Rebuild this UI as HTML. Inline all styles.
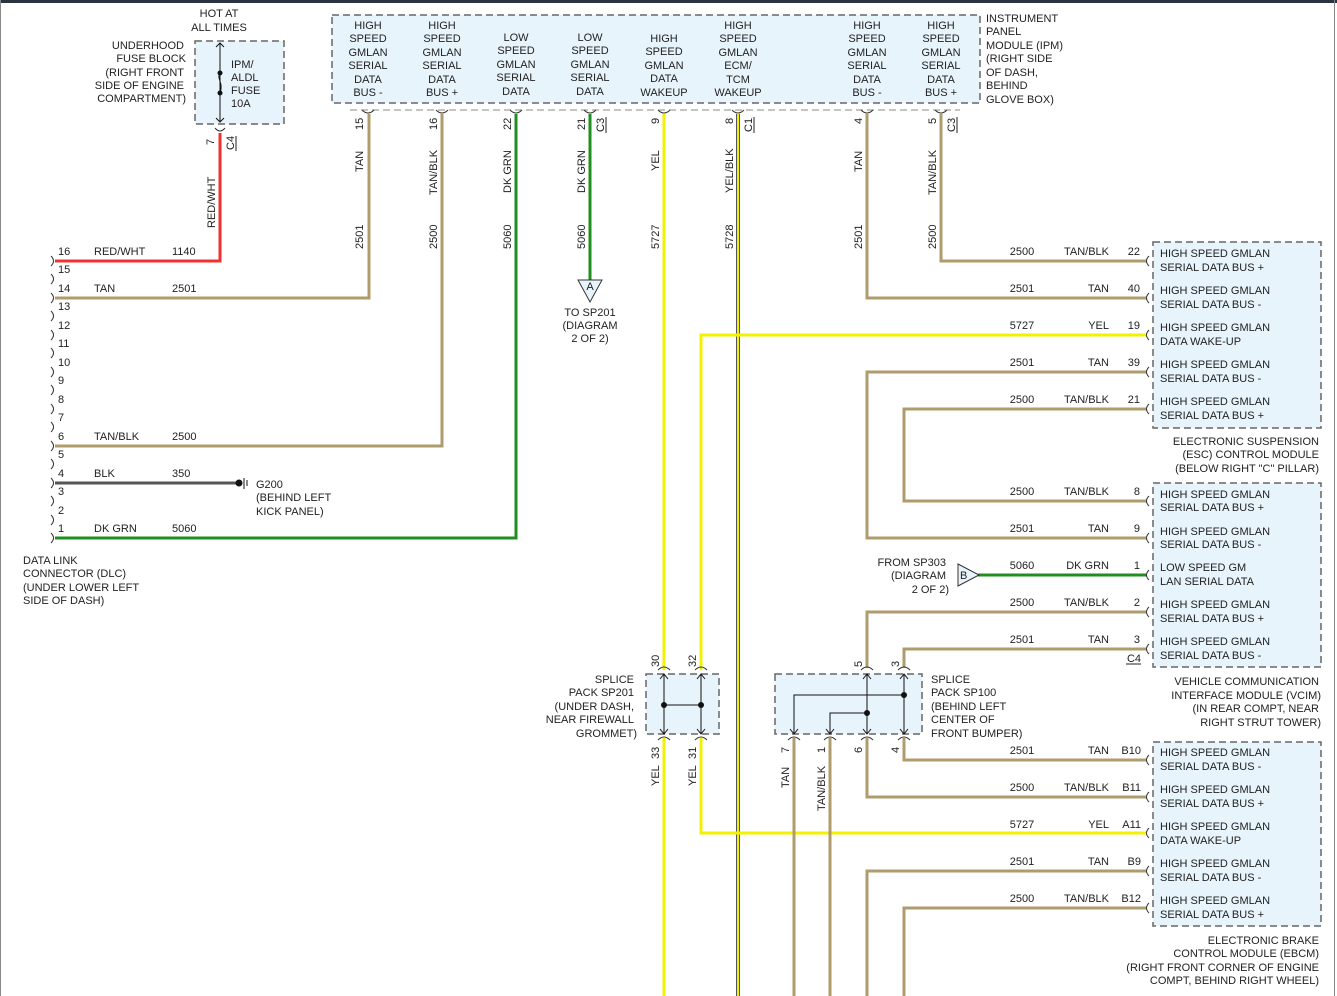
<!DOCTYPE html>
<html><head><meta charset="utf-8"><style>
html,body{margin:0;padding:0;background:#fff}
svg{display:block}
text{font-family:"Liberation Sans",Arial,sans-serif;font-size:11px;fill:#222}
.m{text-anchor:middle}.e{text-anchor:end}
.box{fill:#e8f4fc;stroke:#666;stroke-width:1.5;stroke-dasharray:7,4}
.tan{stroke:#b09b6c;stroke-width:3;fill:none}
.yel{stroke:#f2f200;stroke-width:3;fill:none}
.grn{stroke:#1f8f1f;stroke-width:3;fill:none}
.red{stroke:#f23030;stroke-width:3;fill:none}
.blk{stroke:#555;stroke-width:3;fill:none}
.pin{stroke:#333;stroke-width:1;fill:none}
.ln{stroke:#111;stroke-width:1;fill:none}
</style></head><body>
<svg width="1337" height="996" viewBox="0 0 1337 996" xmlns="http://www.w3.org/2000/svg">
<rect x="0" y="0" width="1337" height="3" fill="#2a3340"/>
<line x1="0.5" y1="0" x2="0.5" y2="996" stroke="#888"/>
<line x1="1334.5" y1="0" x2="1334.5" y2="996" stroke="#888"/>

<!-- fuse block -->
<text class="m" x="219" y="17">HOT AT</text><text class="m" x="219" y="31">ALL TIMES</text>
<rect class="box" x="195" y="41" width="89" height="83"/>
<text class="e" x="184" y="49">UNDERHOOD</text><text class="e" x="186" y="62">FUSE BLOCK</text>
<text class="e" x="184" y="76">(RIGHT FRONT</text><text class="e" x="184" y="89">SIDE OF ENGINE</text>
<text class="e" x="186" y="102">COMPARTMENT)</text>
<text x="231" y="68">IPM/</text><text x="231" y="81">ALDL</text><text x="231" y="94">FUSE</text><text x="231" y="107">10A</text>
<path class="ln" d="M220 43V122M216 47l4-4 4 4M216 118l4 4 4-4M220 73c-4 5 4 10 0 20"/>
<circle cx="220" cy="73" r="2.5" fill="#111"/><circle cx="220" cy="93" r="2.5" fill="#111"/>
<path class="pin" d="M215 128q5 6 10 0"/>
<text transform="translate(214,145) rotate(-90)">7</text>
<text transform="translate(234,150) rotate(-90)">C4</text>
<line x1="236" y1="136" x2="236" y2="151" stroke="#222"/>
<path class="red" d="M220 133V261H55"/>
<text transform="translate(215,228) rotate(-90)">RED/WHT</text>

<!-- IPM -->
<rect class="box" x="332" y="15" width="648" height="88"/>
<g class="m">
<text x="368" y="29">HIGH</text><text x="368" y="42">SPEED</text><text x="368" y="56">GMLAN</text><text x="368" y="69">SERIAL</text><text x="368" y="83">DATA</text><text x="368" y="96">BUS -</text>
<text x="442" y="29">HIGH</text><text x="442" y="42">SPEED</text><text x="442" y="56">GMLAN</text><text x="442" y="69">SERIAL</text><text x="442" y="83">DATA</text><text x="442" y="96">BUS +</text>
<text x="516" y="41">LOW</text><text x="516" y="54">SPEED</text><text x="516" y="68">GMLAN</text><text x="516" y="81">SERIAL</text><text x="516" y="95">DATA</text>
<text x="590" y="41">LOW</text><text x="590" y="54">SPEED</text><text x="590" y="68">GMLAN</text><text x="590" y="81">SERIAL</text><text x="590" y="95">DATA</text>
<text x="664" y="42">HIGH</text><text x="664" y="55">SPEED</text><text x="664" y="69">GMLAN</text><text x="664" y="82">DATA</text><text x="664" y="96">WAKEUP</text>
<text x="738" y="29">HIGH</text><text x="738" y="42">SPEED</text><text x="738" y="56">GMLAN</text><text x="738" y="69">ECM/</text><text x="738" y="83">TCM</text><text x="738" y="96">WAKEUP</text>
<text x="867" y="29">HIGH</text><text x="867" y="42">SPEED</text><text x="867" y="56">GMLAN</text><text x="867" y="69">SERIAL</text><text x="867" y="83">DATA</text><text x="867" y="96">BUS -</text>
<text x="941" y="29">HIGH</text><text x="941" y="42">SPEED</text><text x="941" y="56">GMLAN</text><text x="941" y="69">SERIAL</text><text x="941" y="83">DATA</text><text x="941" y="96">BUS +</text>
</g>
<text x="986" y="22">INSTRUMENT</text><text x="986" y="35">PANEL</text><text x="986" y="49">MODULE (IPM)</text>
<text x="986" y="62">(RIGHT SIDE</text><text x="986" y="76">OF DASH,</text><text x="986" y="89">BEHIND</text><text x="986" y="103">GLOVE BOX)</text>
<line x1="350" y1="110" x2="960" y2="110" stroke="#888" stroke-dasharray="7,4"/>

<g class="pin">
<path d="M362 110q6 6 12 0M436 110q6 6 12 0M510 110q6 6 12 0M584 110q6 6 12 0M658 110q6 6 12 0M732 110q6 6 12 0M861 110q6 6 12 0M935 110q6 6 12 0"/>
</g>
<!-- vertical IPM wires -->
<path class="tan" d="M369 114V298H55"/>
<path class="tan" d="M442 114V446H55"/>
<path class="grn" d="M516 114V538H55"/>
<path class="grn" d="M590 114V285"/>
<path class="yel" d="M664 114V670"/>
<line x1="738" y1="114" x2="738" y2="996" stroke="#555" stroke-width="4"/>
<line x1="738" y1="114" x2="738" y2="996" stroke="#f2f200" stroke-width="2"/>
<path class="tan" d="M867 114V298H1147"/>
<path class="tan" d="M941 114V261H1147"/>

<g>
<text transform="translate(363,130) rotate(-90)">15</text>
<text transform="translate(437,130) rotate(-90)">16</text>
<text transform="translate(511,130) rotate(-90)">22</text>
<text transform="translate(585,130) rotate(-90)">21</text>
<text transform="translate(659,124) rotate(-90)">9</text>
<text transform="translate(733,124) rotate(-90)">8</text>
<text transform="translate(862,124) rotate(-90)">4</text>
<text transform="translate(936,124) rotate(-90)">5</text>
<text transform="translate(604,132) rotate(-90)">C3</text><line x1="606" y1="117" x2="606" y2="133" stroke="#222"/>
<text transform="translate(752,132) rotate(-90)">C1</text><line x1="754" y1="117" x2="754" y2="133" stroke="#222"/>
<text transform="translate(955,132) rotate(-90)">C3</text><line x1="957" y1="117" x2="957" y2="133" stroke="#222"/>
<text transform="translate(363,172) rotate(-90)">TAN</text>
<text transform="translate(437,195) rotate(-90)">TAN/BLK</text>
<text transform="translate(511,193) rotate(-90)">DK GRN</text>
<text transform="translate(585,193) rotate(-90)">DK GRN</text>
<text transform="translate(659,171) rotate(-90)">YEL</text>
<text transform="translate(733,193) rotate(-90)">YEL/BLK</text>
<text transform="translate(862,172) rotate(-90)">TAN</text>
<text transform="translate(936,195) rotate(-90)">TAN/BLK</text>
<text transform="translate(363,249) rotate(-90)">2501</text>
<text transform="translate(437,249) rotate(-90)">2500</text>
<text transform="translate(511,249) rotate(-90)">5060</text>
<text transform="translate(585,249) rotate(-90)">5060</text>
<text transform="translate(659,249) rotate(-90)">5727</text>
<text transform="translate(733,249) rotate(-90)">5728</text>
<text transform="translate(862,249) rotate(-90)">2501</text>
<text transform="translate(936,249) rotate(-90)">2500</text>
</g>
<!-- A arrow -->
<path d="M578 280H602L590 302Z" fill="#e8f4fc" stroke="#333"/>
<text class="m" x="590" y="290">A</text>
<text class="m" x="590" y="316">TO SP201</text><text class="m" x="590" y="329">(DIAGRAM</text><text class="m" x="590" y="342">2 OF 2)</text>

<!-- DLC -->
<g class="pin">
<path d="M51 256q5 5 0 10M51 274q5 5 0 10M51 293q5 5 0 10M51 311q5 5 0 10M51 330q5 5 0 10M51 348q5 5 0 10M51 367q5 5 0 10M51 385q5 5 0 10M51 404q5 5 0 10M51 422q5 5 0 10M51 441q5 5 0 10M51 459q5 5 0 10M51 478q5 5 0 10M51 496q5 5 0 10M51 515q5 5 0 10M51 533q5 5 0 10"/>
</g>
<g>
<text x="58" y="255">16</text><text x="58" y="273">15</text><text x="58" y="292">14</text><text x="58" y="310">13</text>
<text x="58" y="329">12</text><text x="58" y="347">11</text><text x="58" y="366">10</text><text x="58" y="384">9</text>
<text x="58" y="403">8</text><text x="58" y="421">7</text><text x="58" y="440">6</text><text x="58" y="458">5</text>
<text x="58" y="477">4</text><text x="58" y="495">3</text><text x="58" y="514">2</text><text x="58" y="532">1</text>
<text x="94" y="255">RED/WHT</text><text x="172" y="255">1140</text>
<text x="94" y="292">TAN</text><text x="172" y="292">2501</text>
<text x="94" y="440">TAN/BLK</text><text x="172" y="440">2500</text>
<text x="94" y="477">BLK</text><text x="172" y="477">350</text>
<text x="94" y="532">DK GRN</text><text x="172" y="532">5060</text>
</g>
<path class="blk" d="M55 483H238"/>
<circle cx="239" cy="483" r="3.5" fill="#111"/>
<line x1="244" y1="478" x2="244" y2="489" stroke="#111"/><line x1="247" y1="480" x2="247" y2="486" stroke="#111"/>
<text x="256" y="488">G200</text><text x="256" y="501">(BEHIND LEFT</text><text x="256" y="515">KICK PANEL)</text>
<text x="23" y="564">DATA LINK</text><text x="23" y="577">CONNECTOR (DLC)</text><text x="23" y="591">(UNDER LOWER LEFT</text><text x="23" y="604">SIDE OF DASH)</text>

<!-- right side wires -->
<path class="yel" d="M701 670V335H1147"/>
<path class="tan" d="M1147 372H867V538H1147"/>
<path class="tan" d="M1147 409H904V501H1147"/>
<path class="grn" d="M978 575H1147"/>
<path class="tan" d="M867 668V612H1147"/>
<path class="tan" d="M904 668V649H1147"/>
<path class="yel" d="M664 738V996"/>
<path class="yel" d="M701 738V833H1147"/>
<path class="tan" d="M904 738V760H1147"/>
<path class="tan" d="M867 738V797H1147"/>
<path class="tan" d="M794 738V996"/>
<path class="tan" d="M830 738V996"/>
<path class="tan" d="M1147 871H867V996"/>
<path class="tan" d="M1147 908H904V996"/>

<!-- B arrow -->
<path d="M958 564V586L979 575Z" fill="#e8f4fc" stroke="#333"/>
<text x="960" y="579">B</text>
<text class="e" x="946" y="566">FROM SP303</text><text class="e" x="946" y="579">(DIAGRAM</text><text class="e" x="949" y="593">2 OF 2)</text>

<!-- SP201 -->
<rect class="box" x="646" y="674" width="73" height="60"/>
<path class="ln" d="M664 674V734M701 674V734M664 705H701M660 679l4-5 4 5M697 679l4-5 4 5M660 729l4 5 4-5M697 729l4 5 4-5"/>
<circle cx="664" cy="705" r="3" fill="#111"/><circle cx="701" cy="705" r="3" fill="#111"/>
<path class="pin" d="M658 670q6-6 12 0M695 670q6-6 12 0M658 740q6-6 12 0M695 740q6-6 12 0"/>
<text transform="translate(659,667) rotate(-90)">30</text><text transform="translate(696,667) rotate(-90)">32</text>
<text transform="translate(659,759) rotate(-90)">33</text><text transform="translate(696,759) rotate(-90)">31</text>
<text transform="translate(659,786) rotate(-90)">YEL</text><text transform="translate(696,786) rotate(-90)">YEL</text>
<text class="e" x="634" y="683">SPLICE</text><text class="e" x="634" y="696">PACK SP201</text><text class="e" x="634" y="710">(UNDER DASH,</text><text class="e" x="634" y="723">NEAR FIREWALL</text><text class="e" x="637" y="737">GROMMET)</text>

<!-- SP100 -->
<rect class="box" x="775" y="674" width="147" height="60"/>
<path class="ln" d="M867 674V734M904 674V734M794 734V695H904M830 734V713H867M863 679l4-5 4 5M900 679l4-5 4 5M863 729l4 5 4-5M900 729l4 5 4-5M790 729l4 5 4-5M826 729l4 5 4-5"/>
<circle cx="904" cy="695" r="3" fill="#111"/><circle cx="867" cy="713" r="3" fill="#111"/>
<path class="pin" d="M861 670q6-6 12 0M898 670q6-6 12 0M788 740q6-6 12 0M824 740q6-6 12 0M861 740q6-6 12 0M898 740q6-6 12 0"/>
<text transform="translate(862,667) rotate(-90)">5</text><text transform="translate(899,667) rotate(-90)">3</text>
<text transform="translate(789,753) rotate(-90)">7</text><text transform="translate(825,753) rotate(-90)">1</text>
<text transform="translate(862,753) rotate(-90)">6</text><text transform="translate(899,753) rotate(-90)">4</text>
<text transform="translate(789,788) rotate(-90)">TAN</text><text transform="translate(825,811) rotate(-90)">TAN/BLK</text>
<text x="931" y="683">SPLICE</text><text x="931" y="696">PACK SP100</text><text x="931" y="710">(BEHIND LEFT</text><text x="931" y="723">CENTER OF</text><text x="931" y="737">FRONT BUMPER)</text>

<!-- modules -->
<rect class="box" x="1153" y="242" width="168" height="186"/>
<rect class="box" x="1153" y="483" width="168" height="184"/>
<rect class="box" x="1153" y="742" width="168" height="184"/>
<g class="pin">
<path d="M1149 256q-5 5 0 10M1149 293q-5 5 0 10M1149 330q-5 5 0 10M1149 367q-5 5 0 10M1149 404q-5 5 0 10"/>
<path d="M1149 496q-5 5 0 10M1149 533q-5 5 0 10M1149 570q-5 5 0 10M1149 607q-5 5 0 10M1149 644q-5 5 0 10"/>
<path d="M1149 755q-5 5 0 10M1149 792q-5 5 0 10M1149 828q-5 5 0 10M1149 866q-5 5 0 10M1149 903q-5 5 0 10"/>
</g>
<g>
<text class="m" x="1022" y="255">2500</text><text class="e" x="1109" y="255">TAN/BLK</text><text class="e" x="1140" y="255">22</text>
<text class="m" x="1022" y="292">2501</text><text class="e" x="1109" y="292">TAN</text><text class="e" x="1140" y="292">40</text>
<text class="m" x="1022" y="329">5727</text><text class="e" x="1109" y="329">YEL</text><text class="e" x="1140" y="329">19</text>
<text class="m" x="1022" y="366">2501</text><text class="e" x="1109" y="366">TAN</text><text class="e" x="1140" y="366">39</text>
<text class="m" x="1022" y="403">2500</text><text class="e" x="1109" y="403">TAN/BLK</text><text class="e" x="1140" y="403">21</text>
<text class="m" x="1022" y="495">2500</text><text class="e" x="1109" y="495">TAN/BLK</text><text class="e" x="1140" y="495">8</text>
<text class="m" x="1022" y="532">2501</text><text class="e" x="1109" y="532">TAN</text><text class="e" x="1140" y="532">9</text>
<text class="m" x="1022" y="569">5060</text><text class="e" x="1109" y="569">DK GRN</text><text class="e" x="1140" y="569">1</text>
<text class="m" x="1022" y="606">2500</text><text class="e" x="1109" y="606">TAN/BLK</text><text class="e" x="1140" y="606">2</text>
<text class="m" x="1022" y="643">2501</text><text class="e" x="1109" y="643">TAN</text><text class="e" x="1140" y="643">3</text>
<text class="e" x="1141" y="662">C4</text><line x1="1126" y1="664" x2="1141" y2="664" stroke="#222"/>
<text class="m" x="1022" y="754">2501</text><text class="e" x="1109" y="754">TAN</text><text class="e" x="1141" y="754">B10</text>
<text class="m" x="1022" y="791">2500</text><text class="e" x="1109" y="791">TAN/BLK</text><text class="e" x="1141" y="791">B11</text>
<text class="m" x="1022" y="828">5727</text><text class="e" x="1109" y="828">YEL</text><text class="e" x="1141" y="828">A11</text>
<text class="m" x="1022" y="865">2501</text><text class="e" x="1109" y="865">TAN</text><text class="e" x="1141" y="865">B9</text>
<text class="m" x="1022" y="902">2500</text><text class="e" x="1109" y="902">TAN/BLK</text><text class="e" x="1141" y="902">B12</text>
</g>
<g>
<text x="1160" y="257">HIGH SPEED GMLAN</text><text x="1160" y="271">SERIAL DATA BUS +</text>
<text x="1160" y="294">HIGH SPEED GMLAN</text><text x="1160" y="308">SERIAL DATA BUS -</text>
<text x="1160" y="331">HIGH SPEED GMLAN</text><text x="1160" y="345">DATA WAKE-UP</text>
<text x="1160" y="368">HIGH SPEED GMLAN</text><text x="1160" y="382">SERIAL DATA BUS -</text>
<text x="1160" y="405">HIGH SPEED GMLAN</text><text x="1160" y="419">SERIAL DATA BUS +</text>
<text x="1160" y="498">HIGH SPEED GMLAN</text><text x="1160" y="511">SERIAL DATA BUS +</text>
<text x="1160" y="535">HIGH SPEED GMLAN</text><text x="1160" y="548">SERIAL DATA BUS -</text>
<text x="1160" y="571">LOW SPEED GM</text><text x="1160" y="585">LAN SERIAL DATA</text>
<text x="1160" y="608">HIGH SPEED GMLAN</text><text x="1160" y="622">SERIAL DATA BUS +</text>
<text x="1160" y="645">HIGH SPEED GMLAN</text><text x="1160" y="659">SERIAL DATA BUS -</text>
<text x="1160" y="756">HIGH SPEED GMLAN</text><text x="1160" y="770">SERIAL DATA BUS -</text>
<text x="1160" y="793">HIGH SPEED GMLAN</text><text x="1160" y="807">SERIAL DATA BUS +</text>
<text x="1160" y="830">HIGH SPEED GMLAN</text><text x="1160" y="844">DATA WAKE-UP</text>
<text x="1160" y="867">HIGH SPEED GMLAN</text><text x="1160" y="881">SERIAL DATA BUS -</text>
<text x="1160" y="904">HIGH SPEED GMLAN</text><text x="1160" y="918">SERIAL DATA BUS +</text>
</g>
<g class="e">
<text x="1319" y="445">ELECTRONIC SUSPENSION</text><text x="1319" y="458">(ESC) CONTROL MODULE</text><text x="1319" y="472">(BELOW RIGHT "C" PILLAR)</text>
<text x="1319" y="685">VEHICLE COMMUNICATION</text><text x="1321" y="699">INTERFACE MODULE (VCIM)</text><text x="1319" y="712">(IN REAR COMPT, NEAR</text><text x="1321" y="726">RIGHT STRUT TOWER)</text>
<text x="1319" y="944">ELECTRONIC BRAKE</text><text x="1319" y="957">CONTROL MODULE (EBCM)</text><text x="1319" y="971">(RIGHT FRONT CORNER OF ENGINE</text><text x="1319" y="984">COMPT, BEHIND RIGHT WHEEL)</text>
</g>
</svg>
</body></html>
